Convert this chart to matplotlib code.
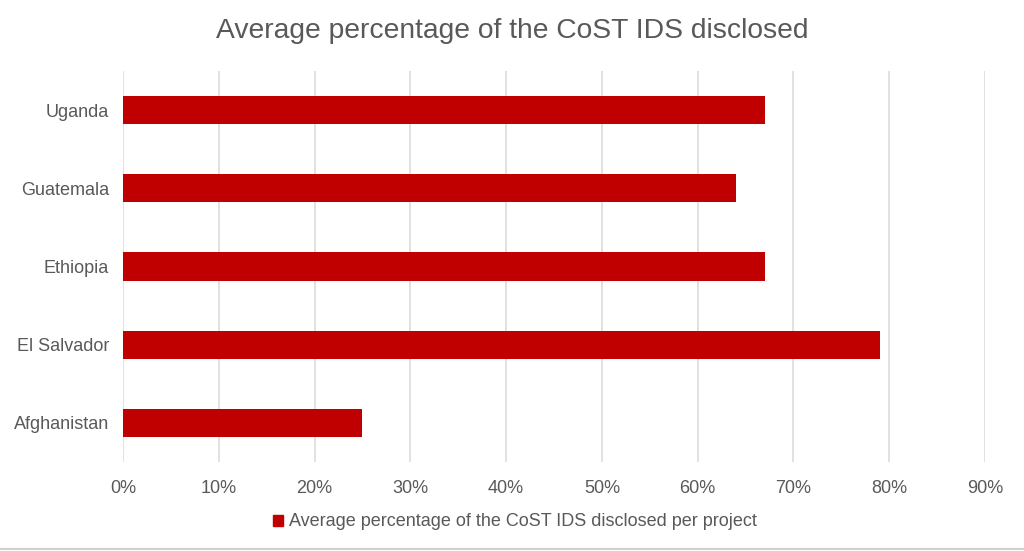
import matplotlib
matplotlib.use("Agg")
import matplotlib.pyplot as plt
from matplotlib.ticker import FuncFormatter, MultipleLocator
from matplotlib.lines import Line2D
from matplotlib.patches import Patch

countries = ["Afghanistan", "El Salvador", "Ethiopia", "Guatemala", "Uganda"]
values = [0.25, 0.79, 0.67, 0.64, 0.67]
series_name = "Average percentage of the CoST IDS disclosed per project"
title = "Average percentage of the CoST IDS disclosed"

plt.rcParams['font.family'] = ['Liberation Sans', 'DejaVu Sans']
txt = "#595959"
red = "#C00000"

fig = plt.figure(figsize=(10.24, 5.51), dpi=100)
ax = fig.add_axes([123/1024, 1-462/551, (985-123)/1024, (462-71)/551])

ax.barh(range(len(countries)), values, height=0.36, color=red, zorder=3)
ax.set_yticks(range(len(countries)))
ax.set_yticklabels(countries)
ax.set_ylim(-0.5, len(countries)-0.5)
ax.set_xlim(0, 0.9)
ax.xaxis.set_major_locator(MultipleLocator(0.1))
ax.xaxis.set_major_formatter(FuncFormatter(lambda v, p: f"{round(v*100):d}%"))
ax.grid(axis='x', color="#D9D9D9", linewidth=1.1, zorder=0)
for s in ax.spines.values():
    s.set_visible(False)
ax.tick_params(axis='both', length=0, colors=txt, labelsize=13)
ax.tick_params(axis='x', pad=13)
ax.tick_params(axis='y', pad=10)

fig.text(0.5, 1-31/551, title, ha='center', va='center', fontsize=20.3, color=txt)

leg = fig.legend(handles=[Patch(color=red, label=series_name)], loc='center',
                 bbox_to_anchor=(0.503, 1-522/551), frameon=False, fontsize=13,
                 handlelength=0.55, handleheight=0.55, handletextpad=0.3)
for t in leg.get_texts():
    t.set_color(txt)

fig.add_artist(Line2D([0, 1], [1-549/551, 1-549/551], transform=fig.transFigure,
                      color="#D0D0D0", linewidth=1.5))

fig.savefig("out.png", dpi=100, facecolor="white")
